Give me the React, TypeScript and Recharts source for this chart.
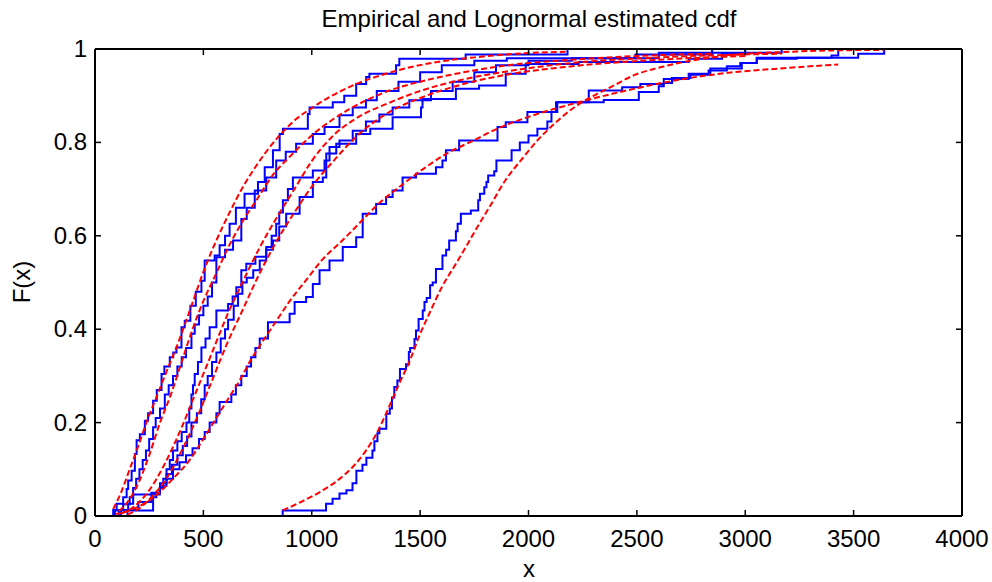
import React from 'react';
import { LineChart, Line, XAxis, YAxis } from 'recharts';

const xTicks = [0, 500, 1000, 1500, 2000, 2500, 3000, 3500, 4000];
const yTicks = [0, 0.2, 0.4, 0.6, 0.8, 1];

const ecdfA: [number, number][] = [
  [84, 0], [84, 0.013], [100, 0.026], [130, 0.04], [146, 0.058], [153, 0.076], [169, 0.097], [184, 0.133],
  [192, 0.162], [207, 0.175], [230, 0.204], [245, 0.22], [268, 0.247], [285, 0.27], [307, 0.304], [320, 0.32],
  [345, 0.34], [361, 0.35], [376, 0.361], [399, 0.404], [414, 0.418], [440, 0.45], [465, 0.48], [491, 0.504],
  [506, 0.547], [552, 0.558], [575, 0.58], [600, 0.6], [621, 0.626], [650, 0.66], [690, 0.69], [752, 0.715],
  [783, 0.747], [821, 0.783], [852, 0.818], [867, 0.829], [982, 0.861], [990, 0.875], [1097, 0.886], [1150, 0.9],
  [1205, 0.925], [1251, 0.94], [1266, 0.947], [1389, 0.965], [1404, 0.979], [1710, 0.988], [2180, 1],
];
const ecdfB: [number, number][] = [
  [110, 0], [110, 0.013], [130, 0.025], [160, 0.04], [176, 0.06], [190, 0.08], [205, 0.1], [220, 0.12],
  [235, 0.14], [250, 0.165], [268, 0.19], [280, 0.21], [300, 0.23], [322, 0.26], [340, 0.28], [360, 0.3],
  [380, 0.32], [400, 0.34], [420, 0.36], [445, 0.39], [460, 0.41], [480, 0.43], [500, 0.45], [520, 0.47],
  [540, 0.5], [560, 0.554], [600, 0.57], [637, 0.59], [675, 0.636], [700, 0.66], [737, 0.697], [790, 0.725],
  [836, 0.761], [880, 0.78], [928, 0.797], [1005, 0.818], [1059, 0.833], [1128, 0.858], [1189, 0.875],
  [1250, 0.89], [1300, 0.91], [1400, 0.93], [1500, 0.95], [1600, 0.965], [1750, 0.975], [1900, 0.98],
  [2493, 0.988], [2847, 1],
];
const ecdfC: [number, number][] = [
  [120, 0], [120, 0.013], [153, 0.026], [176, 0.046], [299, 0.06], [315, 0.08], [330, 0.1], [345, 0.12],
  [360, 0.14], [380, 0.16], [400, 0.18], [422, 0.2], [435, 0.23], [445, 0.26], [452, 0.28], [460, 0.304],
  [475, 0.33], [491, 0.361], [510, 0.38], [529, 0.404], [560, 0.44], [614, 0.454], [635, 0.47], [652, 0.49],
  [675, 0.526], [698, 0.54], [740, 0.555], [790, 0.576], [815, 0.6], [836, 0.626], [850, 0.65], [867, 0.676],
  [890, 0.7], [913, 0.725], [1005, 0.74], [1059, 0.761], [1082, 0.79], [1128, 0.804], [1189, 0.825],
  [1250, 0.845], [1312, 0.86], [1373, 0.875], [1450, 0.89], [1550, 0.91], [1650, 0.93], [1750, 0.95],
  [1850, 0.965], [2000, 0.975], [2200, 0.98], [2601, 0.992], [3168, 1],
];
const ecdfD: [number, number][] = [
  [150, 0], [150, 0.013], [200, 0.03], [260, 0.05], [300, 0.07], [330, 0.09], [355, 0.11], [380, 0.13],
  [405, 0.15], [425, 0.17], [445, 0.2], [470, 0.22], [490, 0.25], [506, 0.28], [520, 0.3], [540, 0.33],
  [560, 0.35], [580, 0.38], [600, 0.4], [614, 0.42], [640, 0.45], [660, 0.476], [680, 0.5], [700, 0.51],
  [730, 0.526], [760, 0.547], [790, 0.57], [821, 0.59], [850, 0.62], [882, 0.647], [944, 0.683], [1005, 0.715],
  [1051, 0.725], [1067, 0.776], [1113, 0.797], [1205, 0.818], [1270, 0.829], [1373, 0.854], [1504, 0.875],
  [1511, 0.893], [1665, 0.915], [1772, 0.922], [1895, 0.947], [1987, 0.968], [2232, 0.972], [2739, 0.979],
  [2893, 0.99], [3000, 1],
];
const ecdfE: [number, number][] = [
  [92, 0], [92, 0.012], [268, 0.04], [283, 0.05], [300, 0.065], [330, 0.08], [360, 0.1], [390, 0.115],
  [420, 0.13], [450, 0.145], [480, 0.165], [506, 0.18], [529, 0.2], [560, 0.22], [575, 0.244], [629, 0.26],
  [650, 0.28], [675, 0.3], [700, 0.32], [720, 0.34], [740, 0.36], [760, 0.38], [798, 0.415], [898, 0.433],
  [921, 0.458], [974, 0.469], [1005, 0.497], [1036, 0.526], [1082, 0.547], [1143, 0.576], [1205, 0.597],
  [1235, 0.647], [1297, 0.668], [1343, 0.683], [1373, 0.697], [1419, 0.725], [1481, 0.733], [1573, 0.747],
  [1603, 0.761], [1619, 0.783], [1680, 0.804], [1857, 0.833], [1895, 0.843], [1995, 0.865], [2133, 0.886],
  [2278, 0.911], [2432, 0.918], [2516, 0.925], [2624, 0.936], [2739, 0.947], [2839, 0.958], [2984, 0.97],
  [3053, 0.979], [3237, 0.981], [3398, 0.986], [3429, 1],
];
const ecdfF: [number, number][] = [
  [866, 0], [866, 0.012], [1066, 0.026], [1096, 0.037], [1128, 0.048], [1160, 0.055], [1188, 0.07],
  [1206, 0.097], [1234, 0.11], [1252, 0.125], [1280, 0.14], [1289, 0.16], [1303, 0.177], [1312, 0.187],
  [1344, 0.219], [1360, 0.23], [1370, 0.254], [1381, 0.276], [1395, 0.29], [1407, 0.315], [1435, 0.325],
  [1448, 0.351], [1454, 0.36], [1474, 0.379], [1481, 0.397], [1493, 0.422], [1512, 0.44], [1520, 0.458],
  [1530, 0.467], [1546, 0.494], [1558, 0.5], [1573, 0.529], [1603, 0.558], [1620, 0.57], [1634, 0.59],
  [1665, 0.61], [1673, 0.626], [1688, 0.647], [1734, 0.654], [1768, 0.676], [1776, 0.69], [1796, 0.704],
  [1806, 0.715], [1814, 0.729], [1842, 0.738], [1852, 0.761], [1922, 0.783], [1960, 0.8], [2000, 0.815],
  [2041, 0.829], [2087, 0.845], [2106, 0.865], [2127, 0.886], [2347, 0.891], [2509, 0.908], [2601, 0.92],
  [2624, 0.927], [2662, 0.938], [2747, 0.945], [2831, 0.954], [2915, 0.963], [2977, 0.97], [3053, 0.981],
  [3521, 0.99], [3641, 1],
];

// lognormal fitted cdf, [x, F]
const fitA: [number, number][] = [
  [84, 0.015], [120, 0.05], [160, 0.1], [200, 0.15], [245, 0.21], [280, 0.25], [322, 0.3], [383, 0.37],
  [445, 0.45], [506, 0.53], [560, 0.59], [621, 0.65], [683, 0.705], [744, 0.75], [790, 0.78], [852, 0.815],
  [928, 0.85], [1005, 0.875], [1082, 0.897], [1205, 0.925], [1327, 0.945], [1465, 0.962], [1619, 0.975],
  [1772, 0.983], [1950, 0.99], [2180, 0.994],
];
const fitB: [number, number][] = [
  [110, 0.01], [150, 0.03], [200, 0.07], [250, 0.13], [300, 0.2], [350, 0.26], [400, 0.33], [450, 0.4],
  [500, 0.46], [560, 0.52], [620, 0.58], [680, 0.63], [750, 0.68], [820, 0.73], [900, 0.77], [1000, 0.815],
  [1100, 0.85], [1200, 0.878], [1358, 0.911], [1500, 0.93], [1700, 0.95], [1900, 0.965], [2200, 0.977],
  [2500, 0.985], [2847, 0.99],
];
const fitC: [number, number][] = [
  [120, 0.005], [180, 0.02], [250, 0.055], [320, 0.11], [400, 0.19], [470, 0.27], [540, 0.35], [610, 0.43],
  [680, 0.5], [760, 0.575], [840, 0.64], [920, 0.7], [1000, 0.76], [1100, 0.815], [1200, 0.85], [1358, 0.885],
  [1500, 0.91], [1700, 0.935], [1900, 0.952], [2200, 0.97], [2600, 0.982], [3168, 0.99],
];
const fitD: [number, number][] = [
  [150, 0.003], [200, 0.015], [260, 0.04], [330, 0.08], [400, 0.14], [470, 0.21], [540, 0.29], [610, 0.37],
  [680, 0.44], [760, 0.52], [840, 0.59], [920, 0.65], [1000, 0.705], [1100, 0.76], [1200, 0.81], [1358, 0.865],
  [1500, 0.895], [1700, 0.925], [1900, 0.945], [2200, 0.963], [2600, 0.977], [3000, 0.985],
];
const fitE: [number, number][] = [
  [92, 0.004], [160, 0.012], [220, 0.025], [284, 0.045], [360, 0.08], [437, 0.12], [500, 0.165], [560, 0.21],
  [620, 0.255], [667, 0.29], [720, 0.335], [775, 0.375], [840, 0.42], [898, 0.46], [974, 0.505], [1051, 0.55],
  [1130, 0.585], [1205, 0.62], [1312, 0.67], [1419, 0.71], [1520, 0.745], [1619, 0.775], [1750, 0.805],
  [1849, 0.828], [2002, 0.855], [2232, 0.886], [2386, 0.904], [2539, 0.92], [2693, 0.934], [2900, 0.948],
  [3153, 0.958], [3429, 0.967],
];
const fitF: [number, number][] = [
  [866, 0.012], [950, 0.03], [1051, 0.055], [1130, 0.08], [1189, 0.105], [1250, 0.14], [1297, 0.175],
  [1358, 0.235], [1400, 0.28], [1450, 0.33], [1500, 0.39], [1542, 0.433], [1600, 0.49], [1665, 0.54],
  [1711, 0.576], [1772, 0.625], [1818, 0.66], [1895, 0.72], [1971, 0.765], [2033, 0.8], [2110, 0.836],
  [2202, 0.872], [2309, 0.902], [2386, 0.92], [2493, 0.945], [2585, 0.958], [2693, 0.97], [2850, 0.982],
  [3000, 0.99], [3153, 0.993], [3400, 0.997], [3641, 0.998],
];

const empirical = [ecdfA, ecdfB, ecdfC, ecdfD, ecdfE, ecdfF];
const fitted = [fitA, fitB, fitC, fitD, fitE, fitF];

const toRows = (pts: [number, number][]) => pts.map(([x, F]) => ({ x, F }));

const FONT = '"Liberation Sans", Arial, Helvetica, sans-serif';
const FS = 24;
const TICK = 6;

const W = 992;
const H = 582;
const LEFT = 95;
const RIGHT = 963;
const TOP = 48;
const BOTTOM = 516;

function BottomTick({ x, y, payload }: any) {
  return (
    <g>
      <line x1={x} y1={y} x2={x} y2={y - TICK} stroke='#000' strokeWidth={1.5} />
      <text x={x} y={y + 31} textAnchor='middle' fontSize={FS} fontFamily={FONT} fill='#000'>
        {payload.value}
      </text>
    </g>
  );
}

function TopTick({ x, y }: any) {
  return <line x1={x} y1={y} x2={x} y2={y + TICK} stroke='#000' strokeWidth={1.5} />;
}

function LeftTick({ x, y, payload }: any) {
  return (
    <g>
      <line x1={x} y1={y} x2={x + TICK} y2={y} stroke='#000' strokeWidth={1.5} />
      <text x={x - 8} y={y + 8} textAnchor='end' fontSize={FS} fontFamily={FONT} fill='#000'>
        {payload.value}
      </text>
    </g>
  );
}

function RightTick({ x, y }: any) {
  return <line x1={x} y1={y} x2={x - TICK} y2={y} stroke='#000' strokeWidth={1.5} />;
}

export default function App() {
  const axisLine = { stroke: '#000', strokeWidth: 2 };
  return (
    <div style={{ position: 'absolute', left: 0, top: 0, width: W, height: H, background: '#fff' }}>
      <LineChart
        width={W}
        height={H}
        margin={{ top: TOP, right: W - RIGHT, bottom: 0, left: 0 }}
      >
        <XAxis
          xAxisId='bottom'
          type='number'
          dataKey='x'
          domain={[0, 4000]}
          ticks={xTicks}
          interval={0}
          allowDataOverflow
          height={H - BOTTOM}
          tickSize={0}
          tickMargin={0}
          tickLine={false}
          axisLine={axisLine}
          tick={<BottomTick />}
        />
        <XAxis
          xAxisId='top'
          orientation='top'
          type='number'
          dataKey='x'
          domain={[0, 4000]}
          ticks={xTicks}
          interval={0}
          allowDataOverflow
          height={1}
          tickSize={0}
          tickMargin={0}
          tickLine={false}
          axisLine={axisLine}
          tick={<TopTick />}
        />
        <YAxis
          yAxisId='left'
          type='number'
          domain={[0, 1]}
          ticks={yTicks}
          interval={0}
          allowDataOverflow
          width={LEFT}
          tickSize={0}
          tickMargin={0}
          tickLine={false}
          axisLine={axisLine}
          tick={<LeftTick />}
        />
        <YAxis
          yAxisId='right'
          orientation='right'
          type='number'
          domain={[0, 1]}
          ticks={yTicks}
          interval={0}
          allowDataOverflow
          width={1}
          tickSize={0}
          tickMargin={0}
          tickLine={false}
          axisLine={axisLine}
          tick={<RightTick />}
        />
        {/* invisible series so the top/right frame axes get drawn */}
        <Line
          xAxisId='top'
          yAxisId='right'
          data={toRows(ecdfA)}
          dataKey='F'
          stroke='none'
          dot={false}
          activeDot={false}
          isAnimationActive={false}
        />
        {empirical.map((pts, i) => (
          <Line
            key={'e' + i}
            xAxisId='bottom'
            yAxisId='left'
            data={toRows(pts)}
            dataKey='F'
            type='stepAfter'
            stroke='#0000FF'
            strokeWidth={2}
            dot={false}
            activeDot={false}
            isAnimationActive={false}
          />
        ))}
        {fitted.map((pts, i) => (
          <Line
            key={'f' + i}
            xAxisId='bottom'
            yAxisId='left'
            data={toRows(pts)}
            dataKey='F'
            type='monotone'
            stroke='#FF0000'
            strokeWidth={2}
            strokeDasharray='6 3'
            dot={false}
            activeDot={false}
            isAnimationActive={false}
          />
        ))}
      </LineChart>
      <svg
        width={W}
        height={H}
        style={{ position: 'absolute', left: 0, top: 0, pointerEvents: 'none' }}
      >
        <text x={(LEFT + RIGHT) / 2} y={27} textAnchor='middle' fontSize={FS} fontFamily={FONT} fill='#000'>
          Empirical and Lognormal estimated cdf
        </text>
        <text x={(LEFT + RIGHT) / 2} y={577} textAnchor='middle' fontSize={FS} fontFamily={FONT} fill='#000'>
          x
        </text>
        <text
          x={0}
          y={0}
          transform={`translate(30, ${(TOP + BOTTOM) / 2}) rotate(-90)`}
          textAnchor='middle'
          fontSize={FS}
          fontFamily={FONT}
          fill='#000'
        >
          F(x)
        </text>
      </svg>
    </div>
  );
}
